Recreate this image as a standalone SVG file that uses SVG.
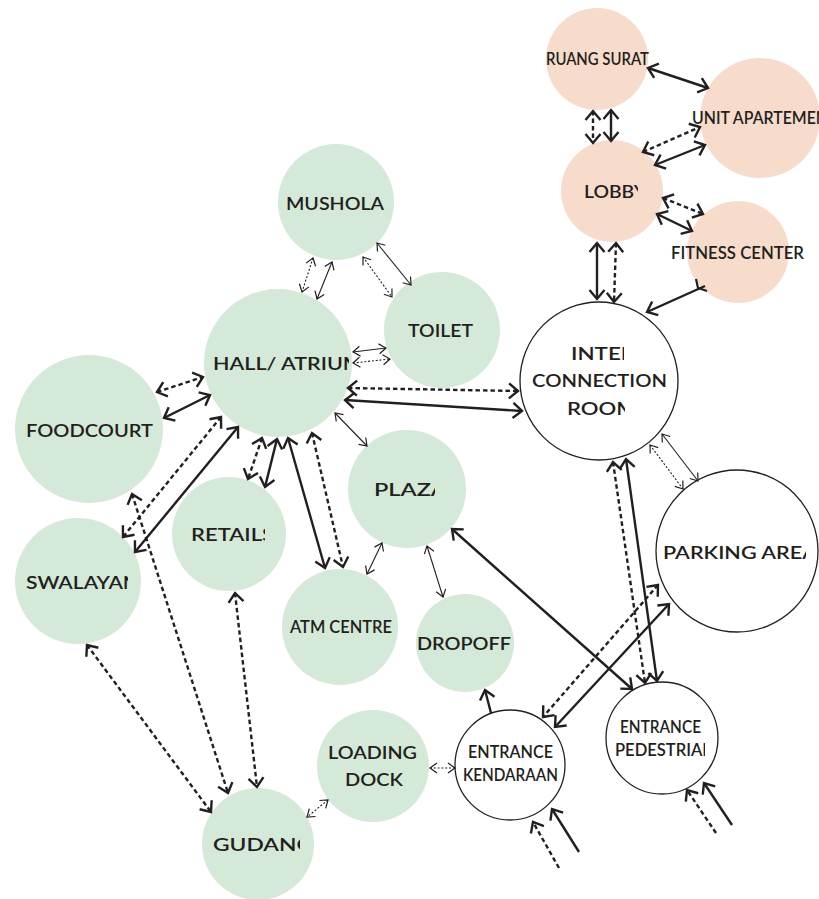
<svg xmlns="http://www.w3.org/2000/svg" width="819" height="899" viewBox="0 0 819 899">
<style>
.lbl{font-family:Lato,"Liberation Sans",sans-serif;font-weight:600;fill:#231f20;font-size:18px}
.g{fill:#d5e9d8}
.p{fill:#f8dccb}
.w{fill:#fff;stroke:#231f20;stroke-width:1.3}
#connectors line,#connectors path{stroke:#231f20;fill:none}
.s{stroke-width:2.4;marker-start:url(#ah);marker-end:url(#ah)}
.d{stroke-width:2.4;stroke-dasharray:4.5 3;marker-start:url(#ah);marker-end:url(#ah)}
.st{stroke-width:1.1;marker-start:url(#at);marker-end:url(#at)}
.dt{stroke-width:1.1;stroke-dasharray:2 1.8;marker-start:url(#at);marker-end:url(#at)}
.s1{stroke-width:2.4;marker-end:url(#ah)}
.d1{stroke-width:2.4;stroke-dasharray:4.5 3;marker-end:url(#ah)}
</style>
<defs>
<marker id="ah" markerUnits="userSpaceOnUse" markerWidth="30" markerHeight="30" refX="0" refY="0" orient="auto-start-reverse" viewBox="-15 -15 30 30" overflow="visible">
<path d="M-9,-7.5 L0,0 L-9,7.5" fill="none" stroke="#231f20" stroke-width="2.4" stroke-dasharray="none"/>
</marker>
<marker id="at" markerUnits="userSpaceOnUse" markerWidth="20" markerHeight="20" refX="0" refY="0" orient="auto-start-reverse" viewBox="-10 -10 20 20" overflow="visible">
<path d="M-7,-5 L0,0 L-7,5" fill="none" stroke="#231f20" stroke-width="1.2" stroke-dasharray="none"/>
</marker>
<clipPath id="cLobby"><rect x="560" y="170" width="78" height="40"/></clipPath>
<clipPath id="cHall"><rect x="200" y="340" width="149" height="40"/></clipPath>
<clipPath id="cSwal"><rect x="15" y="560" width="113" height="40"/></clipPath>
<clipPath id="cRet"><rect x="172" y="510" width="93" height="40"/></clipPath>
<clipPath id="cPlaza"><rect x="350" y="470" width="85" height="40"/></clipPath>
<clipPath id="cGud"><rect x="202" y="820" width="98" height="40"/></clipPath>
<clipPath id="cInter"><rect x="520" y="335" width="104" height="30"/></clipPath>
<clipPath id="cRoom"><rect x="520" y="392" width="105" height="30"/></clipPath>
<clipPath id="cPark"><rect x="656" y="535" width="150" height="35"/></clipPath>
<clipPath id="cPed"><rect x="606" y="740" width="99" height="25"/></clipPath>
</defs>
<rect width="819" height="899" fill="#fff"/>
<g id="nodes">
<g id="ruang-surat"><circle class="p" cx="597" cy="59" r="51"/><text class="lbl" x="546" y="65" font-size="15.5" textLength="103" lengthAdjust="spacingAndGlyphs">RUANG SURAT</text></g>
<g id="unit-apartemen"><circle class="p" cx="760" cy="118" r="60"/><text class="lbl" x="692" y="124" font-size="16" textLength="136" lengthAdjust="spacingAndGlyphs">UNIT APARTEMEN</text></g>
<g id="lobby"><circle class="p" cx="612" cy="191" r="51"/><text class="lbl" x="584" y="198" font-size="17" textLength="62" lengthAdjust="spacingAndGlyphs" clip-path="url(#cLobby)">LOBBY</text></g>
<g id="fitness-center"><circle class="p" cx="738" cy="252" r="51"/><text class="lbl" x="671" y="259" font-size="16.5" textLength="133" lengthAdjust="spacingAndGlyphs">FITNESS CENTER</text></g>
<g id="mushola"><circle class="g" cx="336" cy="202" r="58"/><text class="lbl" x="286" y="210" textLength="98" lengthAdjust="spacingAndGlyphs">MUSHOLA</text></g>
<g id="toilet"><circle class="g" cx="442" cy="330" r="58"/><text class="lbl" x="408" y="337" textLength="65" lengthAdjust="spacingAndGlyphs">TOILET</text></g>
<g id="hall-atrium"><circle class="g" cx="278" cy="363" r="74"/><text class="lbl" x="213" y="370" textLength="150" lengthAdjust="spacingAndGlyphs" clip-path="url(#cHall)">HALL/ ATRIUM</text></g>
<g id="foodcourt"><circle class="g" cx="89" cy="429" r="74"/><text class="lbl" x="26" y="437" textLength="127" lengthAdjust="spacingAndGlyphs">FOODCOURT</text></g>
<g id="swalayan"><circle class="g" cx="78" cy="581" r="63"/><text class="lbl" x="26" y="589" textLength="113" lengthAdjust="spacingAndGlyphs" clip-path="url(#cSwal)">SWALAYAN</text></g>
<g id="retails"><circle class="g" cx="229" cy="534" r="57"/><text class="lbl" x="191" y="541" textLength="83" lengthAdjust="spacingAndGlyphs" clip-path="url(#cRet)">RETAILS</text></g>
<g id="plaza"><circle class="g" cx="407" cy="489" r="59"/><text class="lbl" x="374" y="496" textLength="73" lengthAdjust="spacingAndGlyphs" clip-path="url(#cPlaza)">PLAZA</text></g>
<g id="atm-centre"><circle class="g" cx="340" cy="627" r="58"/><text class="lbl" x="290" y="633" font-size="16" textLength="102" lengthAdjust="spacingAndGlyphs">ATM CENTRE</text></g>
<g id="dropoff"><circle class="g" cx="465" cy="643" r="49"/><text class="lbl" x="417" y="650" font-size="18.5" textLength="94" lengthAdjust="spacingAndGlyphs">DROPOFF</text></g>
<g id="loading-dock"><circle class="g" cx="373" cy="766" r="56"/><text class="lbl" x="328" y="759" font-size="20" textLength="89" lengthAdjust="spacingAndGlyphs">LOADING</text><text class="lbl" x="345" y="786" font-size="20" textLength="58" lengthAdjust="spacingAndGlyphs">DOCK</text></g>
<g id="gudang"><circle class="g" cx="258" cy="844" r="56"/><text class="lbl" x="213" y="851" textLength="100" lengthAdjust="spacingAndGlyphs" clip-path="url(#cGud)">GUDANG</text></g>
<g id="interconnection-room"><circle class="w" cx="599" cy="381" r="79"/><text class="lbl" x="571" y="360" font-size="19" textLength="64" lengthAdjust="spacingAndGlyphs" clip-path="url(#cInter)">INTER</text><text class="lbl" x="532" y="387" font-size="19" textLength="135" lengthAdjust="spacingAndGlyphs">CONNECTION</text><text class="lbl" x="567" y="415" font-size="19" textLength="70" lengthAdjust="spacingAndGlyphs" clip-path="url(#cRoom)">ROOM</text></g>
<g id="parking-area"><circle class="w" cx="737" cy="551" r="81"/><text class="lbl" x="663" y="559" font-size="19" textLength="154" lengthAdjust="spacingAndGlyphs" clip-path="url(#cPark)">PARKING AREA</text></g>
<g id="entrance-kendaraan"><circle class="w" cx="510" cy="765" r="55"/><text class="lbl" x="468" y="758" font-size="15" textLength="85" lengthAdjust="spacingAndGlyphs">ENTRANCE</text><text class="lbl" x="463" y="781" font-size="15" textLength="95" lengthAdjust="spacingAndGlyphs">KENDARAAN</text></g>
<g id="entrance-pedestrian"><circle class="w" cx="662" cy="738" r="56"/><text class="lbl" x="620" y="733" font-size="15" textLength="81" lengthAdjust="spacingAndGlyphs">ENTRANCE</text><text class="lbl" x="615" y="756" font-size="15" textLength="100" lengthAdjust="spacingAndGlyphs" clip-path="url(#cPed)">PEDESTRIAN</text></g>
</g>
<g id="connectors">
<line class="s" x1="648" y1="68" x2="708" y2="88"/>
<line class="d" x1="593" y1="111" x2="593" y2="143"/>
<line class="s" x1="611" y1="110" x2="611" y2="141"/>
<line class="d" x1="643" y1="152" x2="700" y2="127"/>
<line class="s" x1="655" y1="165" x2="705" y2="145"/>
<line class="d" x1="663" y1="198" x2="703" y2="214"/>
<line class="s" x1="657" y1="214" x2="692" y2="231"/>
<line class="s" x1="597" y1="243" x2="597" y2="299"/>
<line class="d" x1="616" y1="243" x2="614" y2="302"/>
<line class="s1" x1="705" y1="286" x2="647" y2="312"/>
<path d="M696,279 L698,288 L707,291" stroke-width="2.2"/>
<line class="dt" x1="313" y1="258" x2="302" y2="292"/>
<line class="st" x1="332" y1="262" x2="317" y2="299"/>
<line class="dt" x1="363" y1="257" x2="392" y2="297"/>
<line class="st" x1="377" y1="243" x2="411" y2="285"/>
<line class="st" x1="353" y1="352" x2="386" y2="348"/>
<line class="dt" x1="353" y1="363" x2="390" y2="359"/>
<line class="d" x1="348" y1="388" x2="518" y2="391"/>
<line class="s" x1="345" y1="400" x2="522" y2="411"/>
<line class="d" x1="157" y1="392" x2="203" y2="377"/>
<line class="s" x1="164" y1="418" x2="210" y2="395"/>
<line class="st" x1="335" y1="413" x2="367" y2="446"/>
<line class="d" x1="221" y1="417" x2="123" y2="537"/>
<line class="s" x1="238" y1="427" x2="135" y2="552"/>
<line class="d" x1="262" y1="438" x2="248" y2="479"/>
<line class="s" x1="277" y1="439" x2="265" y2="487"/>
<line class="s" x1="288" y1="438" x2="325" y2="568"/>
<line class="d" x1="312" y1="433" x2="343" y2="567"/>
<line class="d" x1="132" y1="494" x2="228" y2="793"/>
<line class="d" x1="235" y1="593" x2="257" y2="787"/>
<line class="d" x1="87" y1="645" x2="211" y2="812"/>
<line class="st" x1="382" y1="543" x2="367" y2="574"/>
<line class="st" x1="427" y1="546" x2="443" y2="597"/>
<line class="dt" x1="328" y1="800" x2="307" y2="817"/>
<line class="dt" x1="430" y1="768" x2="455" y2="768"/>
<line class="s" x1="452" y1="529" x2="632" y2="689"/>
<line class="s1" x1="491" y1="713" x2="485" y2="690"/>
<line class="d" x1="613" y1="462" x2="645" y2="683"/>
<line class="s" x1="626" y1="459" x2="657" y2="681"/>
<line class="dt" x1="650" y1="445" x2="683" y2="489"/>
<line class="st" x1="662" y1="434" x2="698" y2="481"/>
<line class="d" x1="658" y1="585" x2="543" y2="717"/>
<line class="s" x1="669" y1="604" x2="555" y2="727"/>
<line class="d1" x1="559" y1="868" x2="533" y2="822"/>
<line class="s1" x1="579" y1="852" x2="552" y2="809"/>
<line class="d1" x1="716" y1="833" x2="687" y2="790"/>
<line class="s1" x1="732" y1="825" x2="704" y2="783"/>
</g>
</svg>
